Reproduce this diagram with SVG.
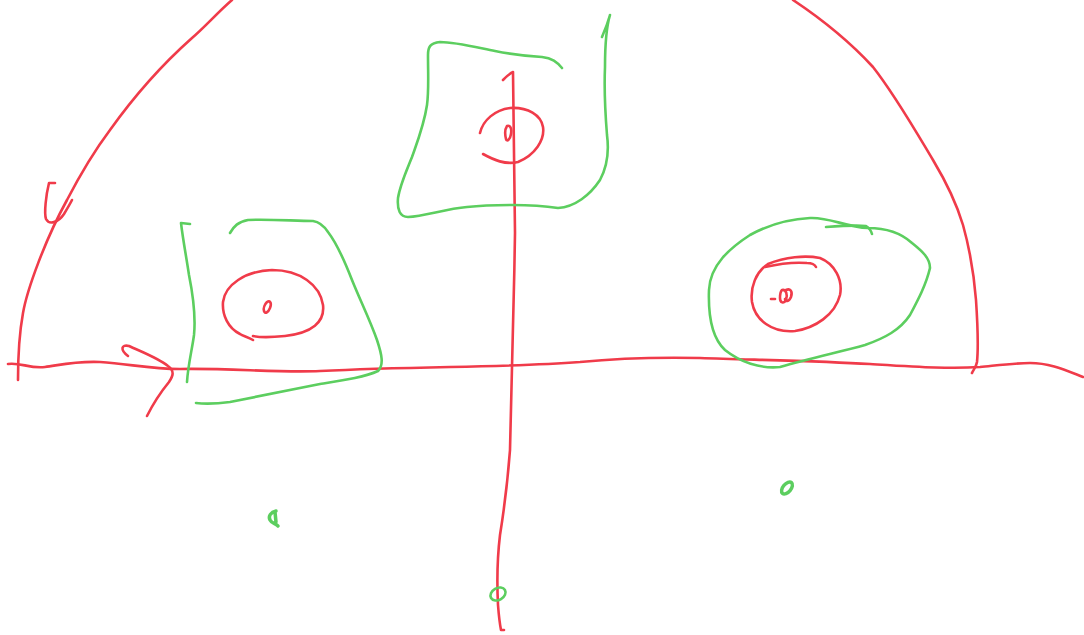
<svg xmlns="http://www.w3.org/2000/svg" width="1084" height="635" viewBox="0 0 1084 635">
<style>
.r{fill:none;stroke:#f03b4a;stroke-width:2.6;stroke-linecap:round;stroke-linejoin:round}
.g{fill:none;stroke:#5cce5f;stroke-width:2.6;stroke-linecap:round;stroke-linejoin:round}
.gd{fill:none;stroke:#5cce5f;stroke-width:3.5;stroke-linecap:round;stroke-linejoin:round}
</style>
<rect width="1084" height="635" fill="#ffffff"/>
<g id="dome">
<path class="r" d="M18,380 C18,360 19,335 23,313 C27,290 45,240 67,200 C80,175 95,150 110,130 C135,95 165,62 192,38 C205,27 218,12 232,0"/>
<path class="r" d="M793,0 C820,18 850,42 873,67 C895,95 915,130 933,160 C948,185 957,205 963,225 C970,250 974,275 976,300 C978,330 978,352 977,362 C976,368 973,370 972,373"/>
<path class="r" d="M55,183 L49,183 C46,195 44,213 46,219 C49,225 58,223 64,214 C67,209 70,204 72,200"/>
</g>
<g id="axes">
<path class="r" d="M8,364 C20,362 30,369 45,367 C60,365 75,361 100,362 C130,364 150,369 180,369 C230,368 280,373 320,371 C360,369 400,368 450,367 C500,366 540,365 580,362 C620,358 650,357 700,358 C760,360 820,361 870,364 C920,367 950,369 980,367 C1000,365 1015,363 1030,363 C1050,363 1065,370 1083,377"/>
<path class="r" d="M503,80 C507,76 510,73 513,72 C513,100 514,160 515,233 C514,300 512,360 510,450 C507,490 504,510 500,535 C497,560 497,585 498,605 C499,618 500,625 501,630 L504,630"/>
<path class="r" d="M128,356 C120,350 121,344 129,346 C142,352 158,358 168,366 C175,371 173,376 169,382 C160,393 153,404 147,416"/>
</g>
<g id="node-left">
<path class="g" d="M190,224 L181,223 C183,240 186,255 189,275 C193,295 196,315 194,335 C192,350 188,365 187,382"/>
<path class="g" d="M230,233 C234,226 238,222 248,220 C270,219 295,221 313,221 C320,222 324,226 328,232 C338,245 345,262 352,280 C360,300 370,320 377,340 C382,355 384,365 378,371 C365,377 345,380 320,384 C290,390 260,396 230,402 C215,404 204,404 196,403"/>
<path class="r" d="M253,340 C248,337 243,336 240,334 C228,328 222,315 223,302 C225,285 245,271 272,270 C300,270 320,285 323,305 C325,322 312,333 285,336 C275,337 262,338 253,336"/>
<path class="r" d="M267,302 C270,300 272,303 270,308 C268,313 265,314 264,311 C263,308 265,304 267,302 Z"/>
</g>
<g id="node-center">
<path class="g" d="M562,68 C557,62 552,58 542,57 C525,56 510,54 495,51 C475,47 455,42 440,42 C430,43 428,47 428,55 C428,75 429,90 427,105 C424,125 418,140 412,157 C406,172 400,185 398,198 C397,210 400,217 408,217 C425,216 445,209 467,207 C485,205 498,205 512,205 C530,205 545,206 558,208 C575,207 590,195 600,180 C608,165 609,150 607,135 C605,110 604,90 605,67 C605,45 607,25 610,15 C608,22 605,30 602,37"/>
<path class="r" d="M480,133 C483,120 495,110 510,108 C528,107 541,115 543,127 C545,140 535,155 518,162 C505,165 494,160 483,154"/>
<path class="r" d="M507,126 C510,125 512,128 511,134 C510,140 507,142 506,139 C505,135 505,129 507,126 Z"/>
</g>
<g id="node-right">
<path class="g" d="M826,227 C840,226 855,225 866,226 C869,228 871,230 872,234"/>
<path class="g" d="M868,228 C885,228 900,232 912,243 C922,251 930,258 930,268 C926,285 918,300 910,315 C900,330 885,338 865,345 C840,352 810,358 780,367 C760,369 740,362 725,350 C712,338 708,318 709,290 C710,265 730,248 750,235 C770,224 790,219 810,218 C830,217 845,227 868,228"/>
<path class="r" d="M765,267 C778,264 795,262 807,263 C812,263 815,265 816,267"/>
<path class="r" d="M768,264 C785,257 805,255 820,258 C835,264 843,280 840,295 C835,315 815,328 795,331 C772,333 755,320 752,302 C750,287 756,272 768,264"/>
<path class="r" d="M771,299 L775,299"/>
<path class="r" d="M782,290 C786,289 788,295 786,300 C784,304 780,303 780,298 C780,294 781,291 782,290 Z M786,290 C790,288 793,291 791,297 C789,302 785,302 785,299"/>
</g>
<g id="marks">
<path class="gd" d="M276,511 C271,512 268,516 270,520 C272,524 276,523 278,526 M275,512 L276,522"/>
<ellipse class="gd" cx="787" cy="488" rx="7" ry="4" transform="rotate(-50 787 488)"/>
<ellipse class="g" cx="498" cy="594" rx="8" ry="6" transform="rotate(-30 498 594)"/>
</g>
</svg>
